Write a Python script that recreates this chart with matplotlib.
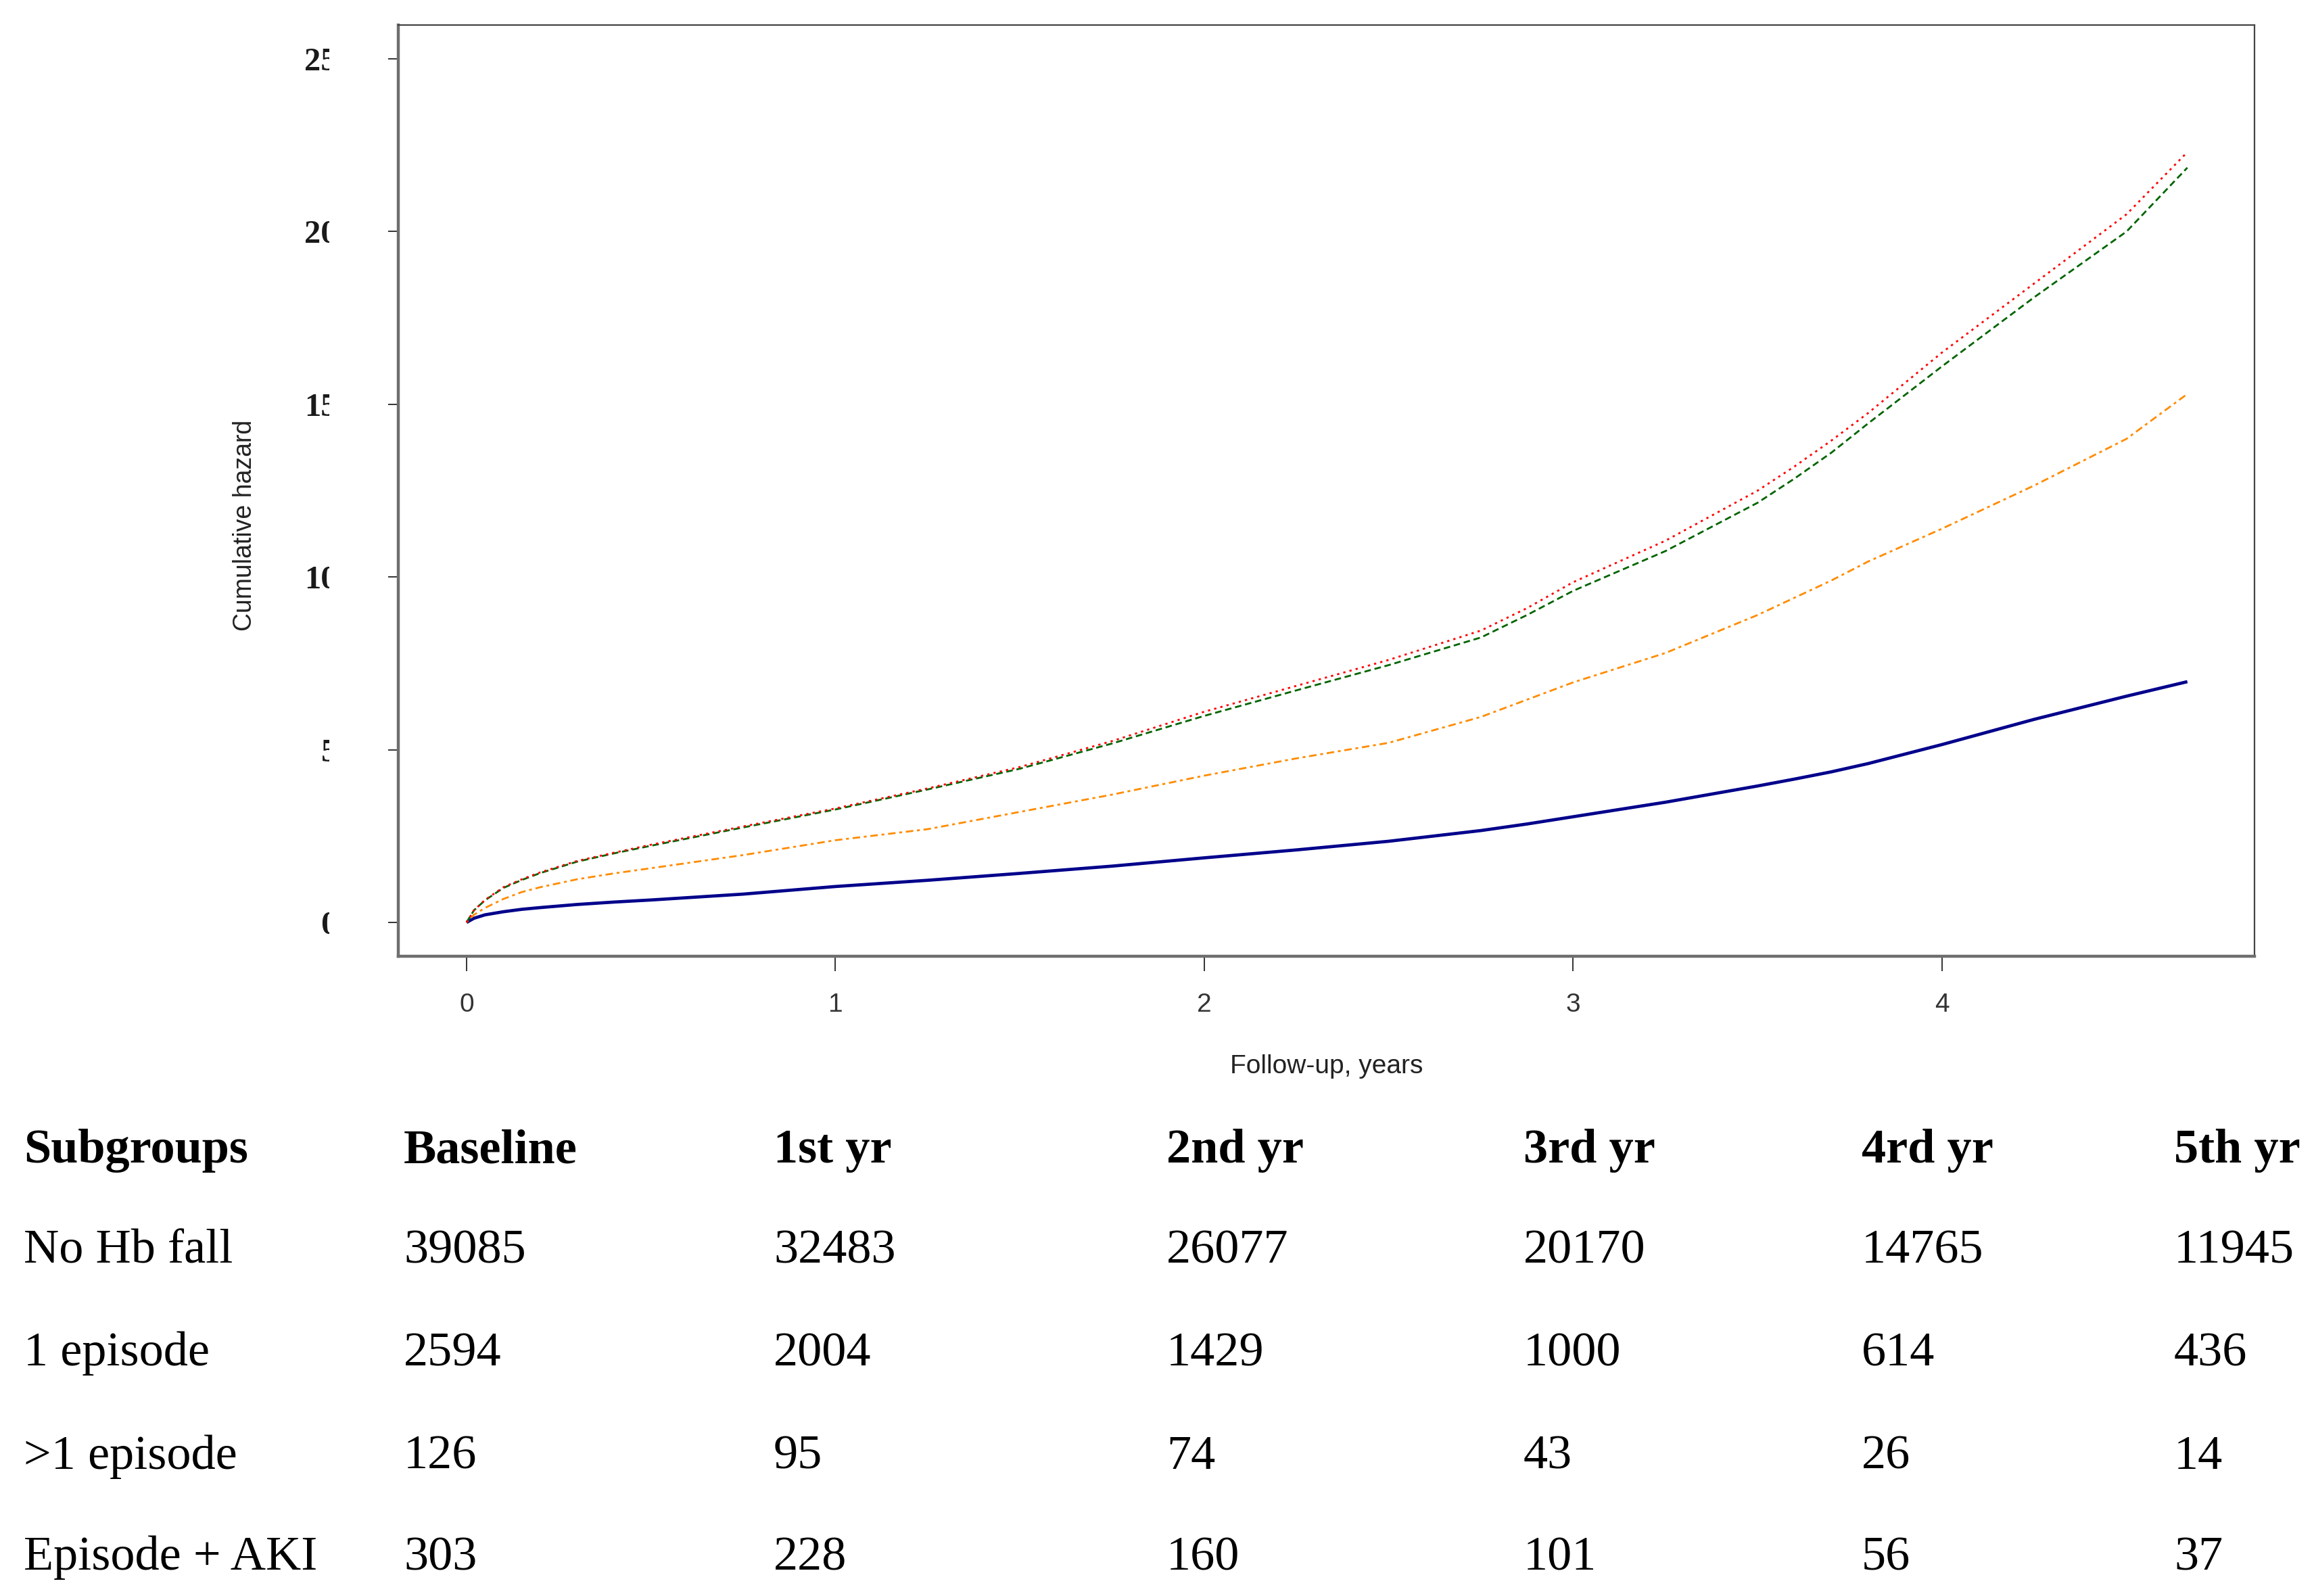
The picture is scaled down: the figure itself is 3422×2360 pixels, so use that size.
import matplotlib
matplotlib.use("Agg")
import matplotlib.pyplot as plt
from matplotlib.transforms import Bbox

# ---- data ----
years = [0, 0.02, 0.05, 0.1, 0.15, 0.2, 0.3, 0.4, 0.5, 0.75, 1.0, 1.25, 1.5, 1.75,
         2.0, 2.25, 2.5, 2.75, 2.875, 3.0, 3.25, 3.5, 3.6, 3.7, 3.8, 4.0, 4.25, 4.5, 4.665]
no_hb_fall = [0, 0.12, 0.22, 0.31, 0.38, 0.43, 0.52, 0.59, 0.65, 0.82, 1.04, 1.22, 1.42, 1.63,
              1.87, 2.1, 2.35, 2.66, 2.85, 3.06, 3.48, 3.95, 4.15, 4.36, 4.6, 5.15, 5.88, 6.55, 6.97]
one_episode = [0, 0.22, 0.42, 0.68, 0.88, 1.02, 1.25, 1.42, 1.57, 1.95, 2.38, 2.7, 3.2, 3.7,
               4.25, 4.75, 5.2, 5.95, 6.45, 6.95, 7.8, 8.9, 9.4, 9.9, 10.45, 11.4, 12.65, 14.0, 15.3]
more_episodes = [0, 0.35, 0.64, 1.0, 1.23, 1.43, 1.76, 2.0, 2.22, 2.75, 3.27, 3.85, 4.45, 5.18,
                 5.98, 6.72, 7.45, 8.25, 8.9, 9.6, 10.75, 12.15, 12.85, 13.6, 14.45, 16.1, 18.1, 20.0, 21.85]
episode_aki = [0, 0.35, 0.65, 1.02, 1.25, 1.45, 1.78, 2.02, 2.25, 2.78, 3.3, 3.88, 4.5, 5.25,
               6.1, 6.85, 7.6, 8.45, 9.1, 9.85, 11.05, 12.5, 13.2, 13.95, 14.75, 16.5, 18.5, 20.5, 22.3]

x_ticks = [0, 1, 2, 3, 4]
y_ticks = [0, 5, 10, 15, 20, 25]

table_header = ["Subgroups", "Baseline", "1st yr", "2nd yr", "3rd yr", "4rd yr", "5th yr"]
subgroups = ["No Hb fall", "1 episode", ">1 episode", "Episode + AKI"]
at_risk_no_fall = [39085, 32483, 26077, 20170, 14765, 11945]
at_risk_one = [2594, 2004, 1429, 1000, 614, 436]
at_risk_more = [126, 95, 74, 43, 26, 14]
at_risk_aki = [303, 228, 160, 101, 56, 37]

# ---- figure ----
W, H = 3422, 2360
fig = plt.figure(figsize=(W / 100, H / 100), dpi=100)
fig.patch.set_facecolor("white")
ax_l, ax_r, ax_t, ax_b = 589, 3334, 37, 1414
ax = fig.add_axes([ax_l / W, (H - ax_b) / H, (ax_r - ax_l) / W, (ax_b - ax_t) / H])

ax.plot(years, no_hb_fall, color="#00008B", lw=3.4, ls="-", solid_capstyle="butt")
ax.plot(years, one_episode, color="#FF8C00", lw=2.0, ls=(0, (1.5, 2.0, 4.0, 2.0)))
ax.plot(years, more_episodes, color="#006400", lw=2.0, ls=(0, (3.5, 2.0)))
ax.plot(years, episode_aki, color="#FF0000", lw=2.0, ls=(0, (1.2, 2.2)))

ax.set_xlim(-0.185, 4.847)
ax.set_ylim(-0.979, 25.98)

for s in ["left", "bottom"]:
    ax.spines[s].set_linewidth(3.2)
    ax.spines[s].set_color("#6e6e6e")
for s in ["top", "right"]:
    ax.spines[s].set_linewidth(1.6)
    ax.spines[s].set_color("#444444")

ax.set_xticks(x_ticks)
ax.set_xticklabels([str(v) for v in x_ticks], fontfamily="Liberation Sans", fontsize=28, color="#333333")
ax.tick_params(axis="x", direction="out", length=16, width=1.4, color="#333333", pad=23)

ax.set_yticks(y_ticks)
ax.set_yticklabels([str(v) for v in y_ticks], fontfamily="Liberation Serif", fontweight="bold",
                   fontsize=35, color="#1a1a1a")
ax.tick_params(axis="y", direction="out", length=11, width=1.4, color="#333333", pad=54)
clip = Bbox([[0, 0], [487, H]])
for lbl in ax.get_yticklabels():
    lbl.set_clip_box(clip)
    lbl.set_clip_on(True)

ax.set_xlabel("Follow-up, years", fontfamily="Liberation Sans", fontsize=28, color="#222222")
ax.xaxis.set_label_coords(0.5, (H - 1559 - (H - ax_b)) / (ax_b - ax_t))
ax.set_ylabel("Cumulative hazard", fontfamily="Liberation Sans", fontsize=27, color="#222222")
ax.yaxis.label.set_verticalalignment("center")
ax.yaxis.set_label_coords((362 - ax_l) / (ax_r - ax_l), (H - 777 - (H - ax_b)) / (ax_b - ax_t))

# ---- at-risk table ----
col_x = [35, 597, 1144, 1725, 2253, 2753, 3215]
row_y = [1719, 1867, 2019, 2172, 2321]
rows = [at_risk_no_fall, at_risk_one, at_risk_more, at_risk_aki]
FS = 52
for cx, txt in zip(col_x, table_header):
    fig.text(cx / W, 1 - row_y[0] / H, txt, fontfamily="Liberation Serif", fontweight="bold",
             fontsize=FS, va="baseline", ha="left", color="black")
for ry, name, vals in zip(row_y[1:], subgroups, rows):
    fig.text(col_x[0] / W, 1 - ry / H, name, fontfamily="Liberation Serif", fontsize=FS,
             va="baseline", ha="left", color="black")
    for cx, v in zip(col_x[1:], vals):
        fig.text(cx / W, 1 - ry / H, str(v), fontfamily="Liberation Serif", fontsize=FS,
                 va="baseline", ha="left", color="black")

fig.savefig("out.png", dpi=100)
